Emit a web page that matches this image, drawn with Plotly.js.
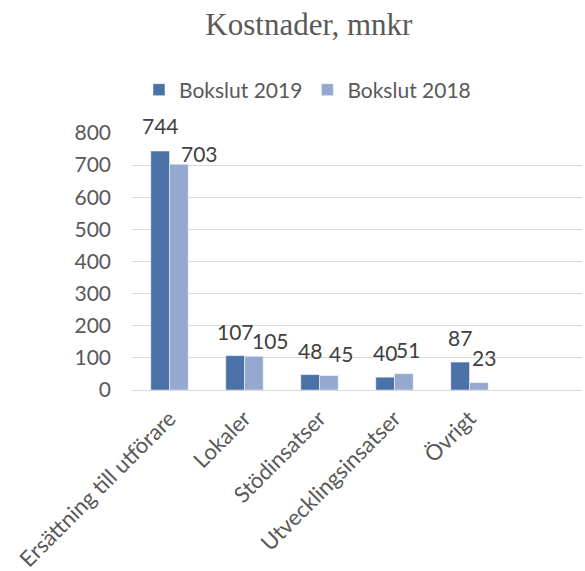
<!DOCTYPE html>
<html>
<head>
<meta charset="utf-8">
<script src="https://cdn.plot.ly/plotly-3.0.1.min.js"></script>
<style>html,body{margin:0;padding:0;background:#fff;}#chart{width:585px;height:571px;}</style>
</head>
<body>
<div id="chart"></div>
<script>
const categories = ["Ersättning till utförare", "Lokaler", "Stödinsatser", "Utvecklingsinsatser", "Övrigt", " "];
const bokslut2019 = [744, 107, 48, 40, 87, null];
const bokslut2018 = [703, 105, 45, 51, 23, null];
const seriesNames = ["Bokslut 2019", "Bokslut 2018"];
const yTicks = [0, 100, 200, 300, 400, 500, 600, 700, 800];

// label style nudges (pixels) for the data labels
const nudge2019 = [[0, 25], [0, 24], [0, 24], [0, 25], [0, 25]];
const nudge2018 = [[21, 11], [17, 16], [12, 22], [4, 24], [5, 25]];

const labelFont = {family: "Lato, 'Open Sans', sans-serif", size: 21, color: "#404040"};
const annotations = [];
function addLabels(vals, nudges, offset) {
  vals.forEach((v, i) => {
    if (v === null) return;
    annotations.push({
      x: categories[i], y: v, xref: 'x', yref: 'y',
      text: String(v), showarrow: false, font: labelFont,
      xanchor: 'center', yanchor: 'middle',
      xshift: offset + nudges[i][0], yshift: nudges[i][1]
    });
  });
}
addLabels(bokslut2019, nudge2019, -9.375);
addLabels(bokslut2018, nudge2018, 9.375);

const traces = [
  {type: 'bar', name: seriesNames[0], x: categories, y: bokslut2019,
   marker: {color: '#4A72A8', line: {color: '#ffffff', width: 0.5}}, hoverinfo: 'none'},
  {type: 'bar', name: seriesNames[1], x: categories, y: bokslut2018,
   marker: {color: '#95A8D0', line: {color: '#ffffff', width: 0.5}}, hoverinfo: 'none'}
];

const layout = {
  width: 585, height: 571,
  margin: {l: 132, r: 3, t: 133, b: 181},
  paper_bgcolor: '#ffffff', plot_bgcolor: '#ffffff',
  title: {text: 'Kostnader, mnkr', font: {family: "'Liberation Serif', serif", size: 31, color: '#595959'},
          x: 0.528, xref: 'container', xanchor: 'center', y: 0.958, yref: 'container', yanchor: 'middle'},
  showlegend: true,
  legend: {orientation: 'h', x: 0.39, xanchor: 'center', xref: 'paper', y: 1 - 90/571, yref: 'container', yanchor: 'middle',
           font: {family: "Lato, 'Open Sans', sans-serif", size: 21, color: '#595959'},
           itemwidth: 30, traceorder: 'normal'},
  barmode: 'group', bargap: 0.5, bargroupgap: 0,
  xaxis: {type: 'category', tickangle: -45, showgrid: false, showline: true, linecolor: '#d9d9d9', linewidth: 1,
          ticks: '', ticklabelstandoff: 6, tickfont: {family: "Lato, 'Open Sans', sans-serif", size: 22, color: '#595959'},
          fixedrange: true},
  yaxis: {range: [0, 800], tickvals: yTicks, ticktext: yTicks.map(String), showgrid: true, gridcolor: '#d9d9d9', gridwidth: 1,
          zeroline: false, showline: false, ticks: '', ticklabelstandoff: 20,
          tickfont: {family: "Lato, 'Open Sans', sans-serif", size: 21, color: '#595959'}, fixedrange: true},
  annotations: annotations
};

Plotly.newPlot('chart', traces, layout, {displayModeBar: false, staticPlot: true});
</script>
</body>
</html>
